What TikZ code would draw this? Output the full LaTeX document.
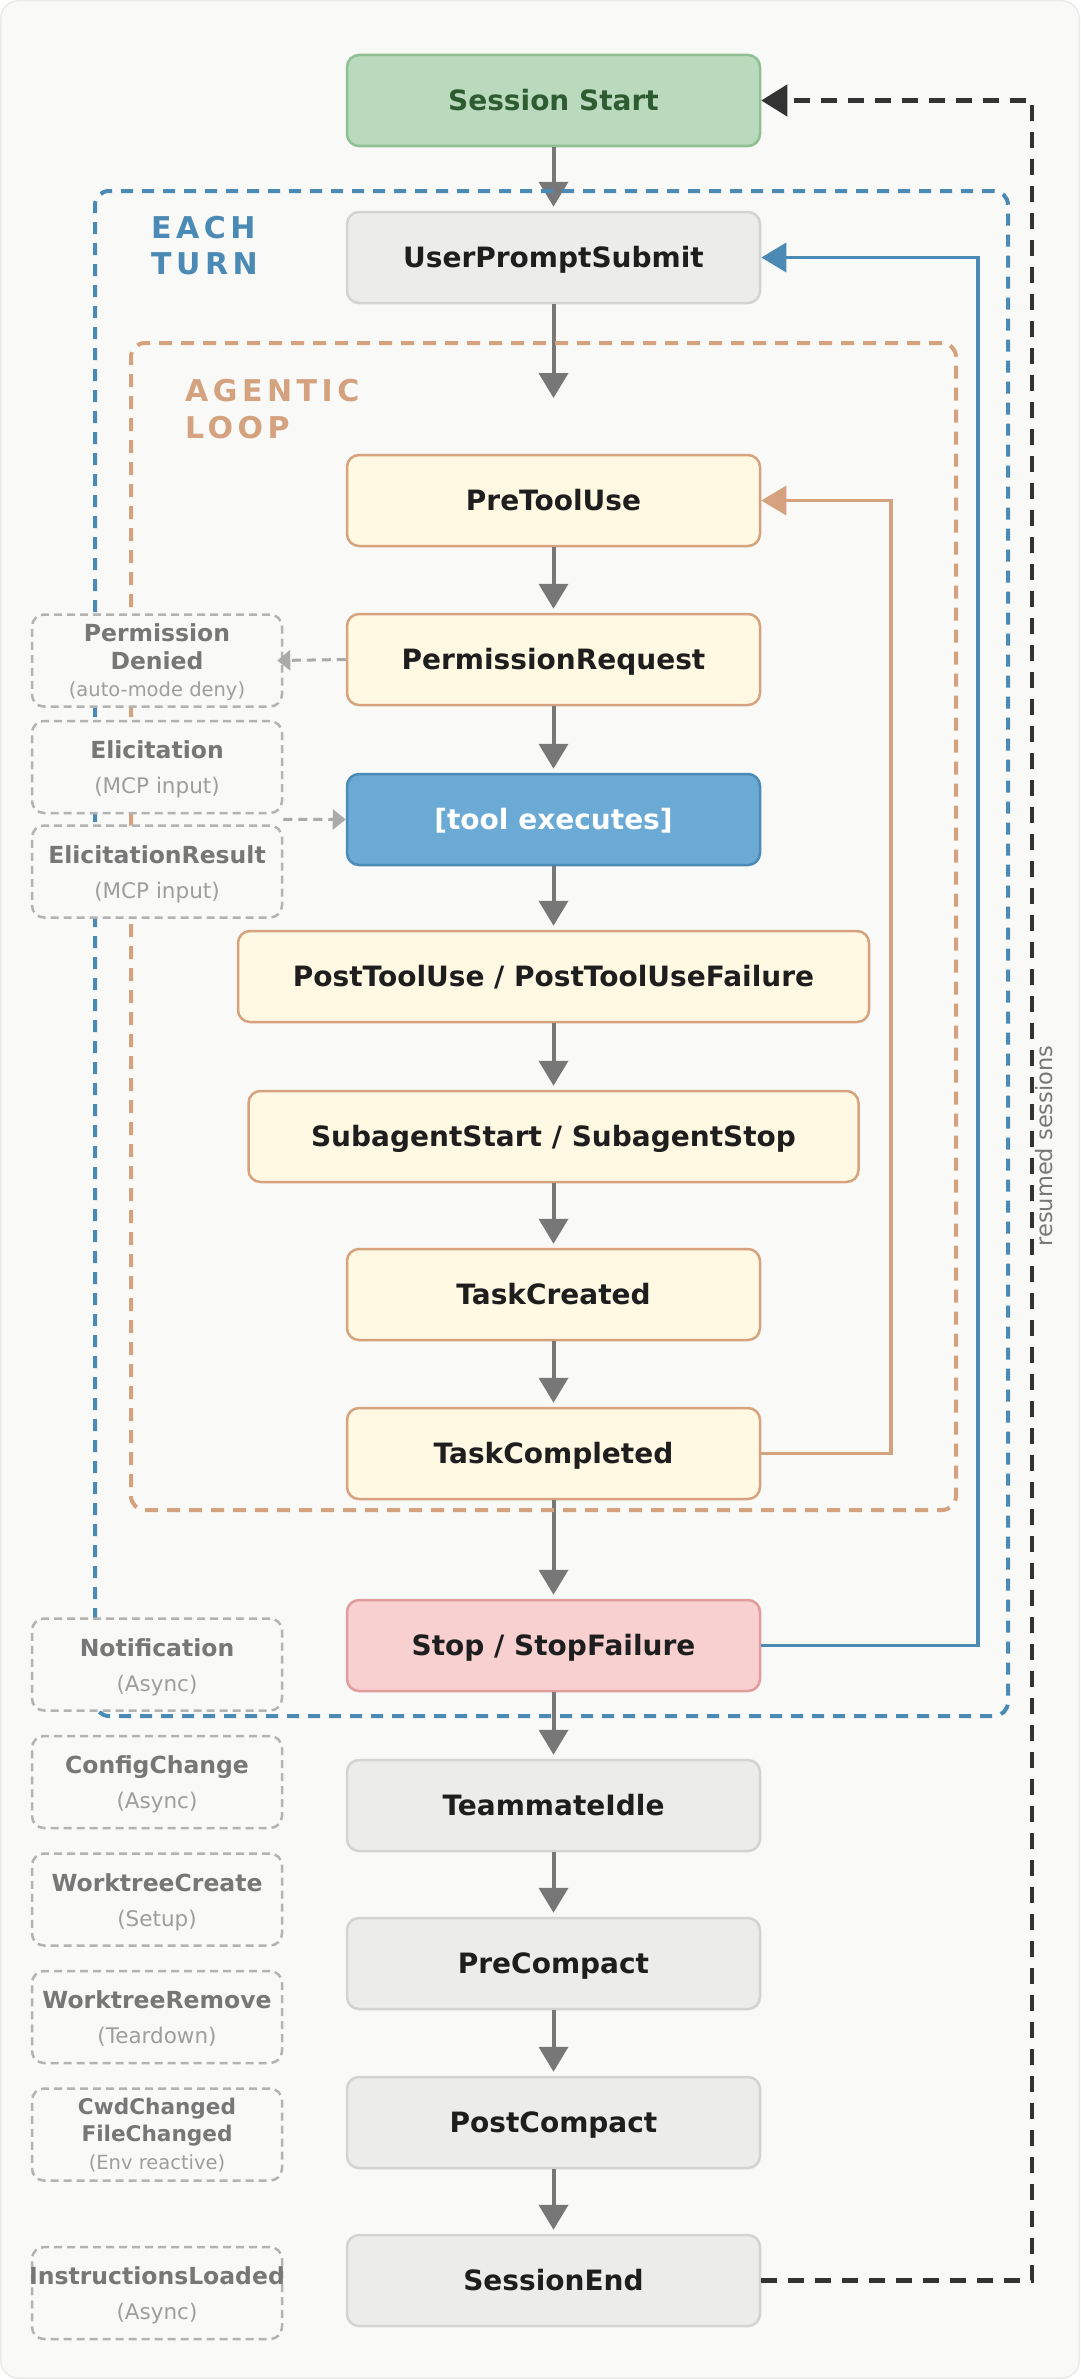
\documentclass[tikz,border=0pt]{standalone}
\usepackage{fontspec}
\setmainfont{DejaVu Sans}
\newfontfamily\spacedfont[LetterSpace=15]{DejaVu Sans}
\usetikzlibrary{arrows.meta,calc}
\definecolor{bgc}{HTML}{F9F9F7}
\definecolor{frame}{HTML}{EAEAE8}
\definecolor{greenfill}{HTML}{B9DABC}
\definecolor{greenline}{HTML}{8FC093}
\definecolor{greentext}{HTML}{2E5B32}
\definecolor{grayfill}{HTML}{ECECEA}
\definecolor{grayline}{HTML}{D3D3D1}
\definecolor{orfill}{HTML}{FFF8E3}
\definecolor{orline}{HTML}{D6A37E}
\definecolor{bluefill}{HTML}{6AAAD4}
\definecolor{blueline}{HTML}{4A8BB8}
\definecolor{redfill}{HTML}{F9D0D0}
\definecolor{redline}{HTML}{E09C9E}
\definecolor{loopblue}{HTML}{4A8AB5}
\definecolor{looporange}{HTML}{D4A27F}
\definecolor{arrowgray}{HTML}{777777}
\definecolor{darkdash}{HTML}{333333}
\definecolor{sideline}{HTML}{B3B3B3}
\definecolor{sidearrowc}{HTML}{AAAAAA}
\definecolor{sidetitle}{HTML}{777777}
\definecolor{sidesub}{HTML}{9E9E9E}
\definecolor{textdark}{HTML}{1E1E1E}
\begin{document}
\begin{tikzpicture}[x=1pt,y=-1pt,
 mainbox/.style={draw, rounded corners=12pt, line width=2.5pt, minimum width=413pt, minimum height=91pt, inner sep=0pt, font=\fontsize{28}{34}\selectfont\bfseries, text=textdark, text height=20.4pt, text depth=0pt},
 greenbox/.style={mainbox, fill=greenfill, draw=greenline, text=greentext},
 graybox/.style={mainbox, fill=grayfill, draw=grayline},
 orbox/.style={mainbox, fill=orfill, draw=orline},
 bluebox/.style={mainbox, fill=bluefill, draw=blueline, text=white},
 redbox/.style={mainbox, fill=redfill, draw=redline},
 sidebox/.style={draw=sideline, fill=bgc, line width=2.5pt, dash pattern=on 8pt off 5pt, rounded corners=12pt, minimum width=250pt, minimum height=92pt, inner sep=0pt},
 stitle/.style={inner sep=0pt, text=sidetitle, font=\fontsize{23.5}{28}\selectfont\bfseries, text height=17.2pt, text depth=0pt},
 ssub/.style={inner sep=0pt, text=sidesub, font=\fontsize{21.5}{26}\selectfont, text height=15.7pt, text depth=0pt},
 flowarrow/.style={draw=arrowgray, line width=4pt, shorten >=4pt, -{Triangle[width=29pt,length=25pt]}},
 sidearrow/.style={draw=sidearrowc, line width=3pt, dash pattern=on 9pt off 6pt, -{Triangle[width=20pt,length=13pt]}},
 container/.style={line width=4pt, rounded corners=14pt, inner sep=0pt},
 grouplabel/.style={anchor=west, inner sep=0pt, font=\spacedfont\fontsize{30}{36}\selectfont\bfseries, text height=21.9pt, text depth=0pt}
]
\useasboundingbox (0,0) rectangle (1080,2379);
\fill[white] (0,0) rectangle (1080,2379);
\filldraw[fill=bgc, draw=frame, line width=1.5pt, rounded corners=18pt] (0.75,0.75) rectangle (1079.25,2378.25);

% main flow nodes
\node[greenbox] (ss) at (553.5,100.5) {Session Start};
\node[graybox] (ups) at (553.5,257.5) {UserPromptSubmit};
\node[orbox] (ptu) at (553.5,500.5) {PreToolUse};
\node[orbox] (preq) at (553.5,659.5) {PermissionRequest};
\node[bluebox] (tool) at (553.5,819.5) {[tool executes]};
\node[orbox, minimum width=631pt] (post) at (553.5,976.5) {PostToolUse / PostToolUseFailure};
\node[orbox, minimum width=610pt] (sub) at (553.5,1136.5) {SubagentStart / SubagentStop};
\node[orbox] (tcre) at (553.5,1294.5) {TaskCreated};
\node[orbox] (tcomp) at (553.5,1453.5) {TaskCompleted};
\node[redbox] (stop) at (553.5,1645.5) {Stop / StopFailure};
\node[graybox] (tidle) at (553.5,1805.5) {TeammateIdle};
\node[graybox] (prec) at (553.5,1963.5) {PreCompact};
\node[graybox] (postc) at (553.5,2122.5) {PostCompact};
\node[graybox] (send) at (553.5,2280.5) {SessionEnd};

% coordinates for connectors
\coordinate (loopentry) at (553.5,398);
\coordinate (oc) at (891,0);
\coordinate (bc) at (978,0);
\coordinate (kc) at (1032,0);

% flow arrows
\draw[flowarrow] (ss) -- (ups);
\draw[flowarrow, shorten >=0pt] (ups) -- (loopentry);
\draw[flowarrow] (ptu) -- (preq);
\draw[flowarrow] (preq) -- (tool);
\draw[flowarrow] (tool) -- (post);
\draw[flowarrow] (post) -- (sub);
\draw[flowarrow] (sub) -- (tcre);
\draw[flowarrow] (tcre) -- (tcomp);
\draw[flowarrow] (tcomp) -- (stop);
\draw[flowarrow] (stop) -- (tidle);
\draw[flowarrow] (tidle) -- (prec);
\draw[flowarrow] (prec) -- (postc);
\draw[flowarrow] (postc) -- (send);

% loop backs
\draw[looporange, line width=3.5pt, -{Triangle[width=29pt,length=25pt]}] (tcomp.east) -- (tcomp.east -| oc) |- (ptu.east);
\draw[loopblue, line width=3.5pt, -{Triangle[width=29pt,length=25pt]}] (stop.east) -- (stop.east -| bc) |- (ups.east);
\draw[darkdash, line width=4.5pt, dash pattern=on 16pt off 11pt, -{Triangle[width=31pt,length=26pt]}] (send.east) -- (send.east -| kc) |- (ss.east);
\node[rotate=90, inner sep=0pt, text=arrowgray, font=\fontsize{22.5}{27}\selectfont] (rs) at (1044,1146) {resumed sessions};

% containers
\node[container, draw=loopblue, dash pattern=on 12pt off 9pt, minimum width=913pt, minimum height=1525pt] (eachturn) at (551.5,953.5) {};
\node[container, draw=looporange, dash pattern=on 13pt off 9pt, minimum width=825pt, minimum height=1167pt] (agentic) at (543.5,926.5) {};
\node[grouplabel, text=loopblue] (lblEach) at (151,228) {EACH};
\node[grouplabel, text=loopblue] (lblTurn) at (151,264) {TURN};
\node[grouplabel, text=looporange] (lblAgentic) at (185,391) {AGENTIC};
\node[grouplabel, text=looporange] (lblLoop) at (185,427.5) {LOOP};

% side boxes
\node[sidebox] (pd) at (157,660.5) {};
\node[stitle] (pdA) at ($(pd.center)+(0,-27.5)$) {Permission};
\node[stitle] (pdB) at ($(pd.center)+(0,0.5)$) {Denied};
\node[ssub, font=\fontsize{19.5}{24}\selectfont, text height=14.2pt] (pdC) at ($(pd.center)+(0,28.5)$) {(auto-mode deny)};

\node[sidebox] (eli) at (157,767) {};
\node[stitle] (eliA) at ($(eli.center)+(0,-17)$) {Elicitation};
\node[ssub] (eliB) at ($(eli.center)+(0,19)$) {(MCP input)};

\node[sidebox] (elr) at (157,871.5) {};
\node[stitle] (elrA) at ($(elr.center)+(0,-17)$) {ElicitationResult};
\node[ssub] (elrB) at ($(elr.center)+(0,19)$) {(MCP input)};

\node[sidebox] (notif) at (157,1664.5) {};
\node[stitle] (notifA) at ($(notif.center)+(0,-17)$) {Notification};
\node[ssub] (notifB) at ($(notif.center)+(0,19)$) {(Async)};

\node[sidebox] (cfg) at (157,1782) {};
\node[stitle] (cfgA) at ($(cfg.center)+(0,-17)$) {ConfigChange};
\node[ssub] (cfgB) at ($(cfg.center)+(0,19)$) {(Async)};

\node[sidebox] (wtc) at (157,1899.5) {};
\node[stitle] (wtcA) at ($(wtc.center)+(0,-17)$) {WorktreeCreate};
\node[ssub] (wtcB) at ($(wtc.center)+(0,19)$) {(Setup)};

\node[sidebox] (wtr) at (157,2017) {};
\node[stitle] (wtrA) at ($(wtr.center)+(0,-17)$) {WorktreeRemove};
\node[ssub] (wtrB) at ($(wtr.center)+(0,19)$) {(Teardown)};

\node[sidebox] (cwd) at (157,2134.5) {};
\node[stitle, font=\fontsize{21.6}{26}\selectfont\bfseries, text height=15.8pt] (cwdA) at ($(cwd.center)+(0,-27.5)$) {CwdChanged};
\node[stitle, font=\fontsize{21.6}{26}\selectfont\bfseries, text height=15.8pt] (cwdB) at ($(cwd.center)+(0,-1)$) {FileChanged};
\node[ssub, font=\fontsize{19.5}{24}\selectfont, text height=14.2pt] (cwdC) at ($(cwd.center)+(0,27.5)$) {(Env reactive)};

\node[sidebox] (inst) at (157,2293) {};
\node[stitle] (instA) at ($(inst.center)+(0,-17)$) {InstructionsLoaded};
\node[ssub] (instB) at ($(inst.center)+(0,19)$) {(Async)};

% side arrows
\coordinate (pdtip) at ($(pd.east)+(-6,0)$);
\coordinate (elistart) at ($(eli.south east)!0.5!(elr.north east)$);
\draw[sidearrow] (preq.west) -- (pdtip);
\draw[sidearrow] (elistart) -- (tool.west);
\end{tikzpicture}
\end{document}
